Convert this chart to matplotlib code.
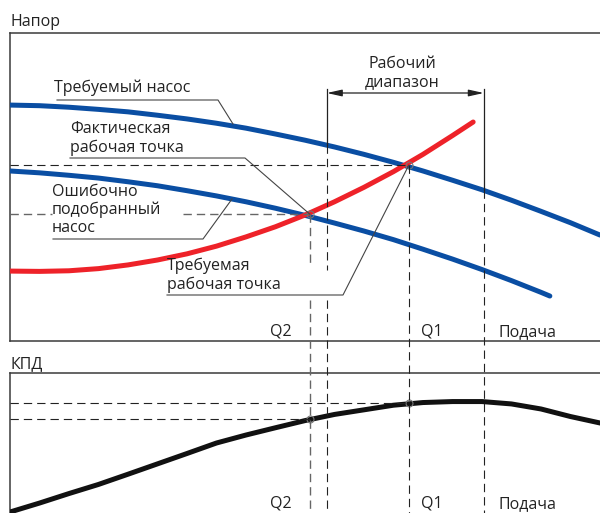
import numpy as np
import matplotlib
matplotlib.use("Agg")
import matplotlib.pyplot as plt
from matplotlib.transforms import Affine2D
from matplotlib.lines import Line2D
from matplotlib.patches import FancyArrowPatch

plt.rcParams['font.family'] = ['Open Sans', 'DejaVu Sans']
plt.rcParams['lines.scale_dashes'] = False

# flow in arbitrary units (0..100 across the chart), head / efficiency 0..100
q_req_pump = [0, 5, 10, 15, 20, 25, 30, 35, 40, 45, 50, 55, 60, 65, 70, 75, 80, 85, 90, 95, 100]
h_req_pump = [76.6, 76.4, 75.9, 75.2, 74.4, 73.3, 72.1, 70.7, 69.1, 67.2, 65.2,
              63.0, 60.6, 58.0, 55.2, 52.2, 49.1, 45.7, 42.1, 38.4, 34.4]

q_wrong_pump = [0, 5, 10, 15, 20, 25, 30, 35, 40, 45, 50, 55, 60, 65, 70, 75, 80, 85, 90, 91.5]
h_wrong_pump = [55.2, 54.6, 53.8, 52.9, 51.7, 50.4, 48.8, 47.1, 45.2, 43.1, 40.8,
                38.3, 35.7, 32.9, 29.8, 26.6, 23.2, 19.6, 15.8, 14.6]

q_system = [0, 5, 10, 15, 20, 25, 30, 35, 40, 45, 50, 55, 60, 65, 70, 75, 78.5]
h_system = [22.7, 22.6, 22.8, 23.5, 24.7, 26.3, 28.3, 30.8, 33.8, 37.1, 40.9,
            45.2, 49.9, 55.0, 60.6, 66.7, 71.1]

q_eff = [0, 5, 10, 15, 20, 25, 30, 35, 40, 45, 50, 55, 60, 65, 70, 75, 80, 85, 90, 95, 100]
eff = [0.7, 7.1, 13.9, 20.4, 27.7, 35.1, 42.5, 50.0, 55.7, 60.9, 66.0,
       70.4, 73.7, 77.0, 78.9, 79.6, 79.6, 77.9, 74.3, 68.9, 64.3]

# operating points: Q2 (actual), Q1 (required), working range
q2, h2, e2 = 50.8, 41.2, 67.1
q1, h1, e1 = 67.6, 57.1, 78.6
range_lo, range_hi = 53.7, 80.3
h_range_lo, h_range_hi = 63.6, 49.0

W, H = 600, 513
fig = plt.figure(figsize=(W / 100, H / 100), dpi=100)
pix = Affine2D().scale(1 / W, -1 / H).translate(0, 1) + fig.transFigure

ax1 = fig.add_axes([10 / W, 1 - 341 / H, 1 - 10 / W, 308 / H])
ax2 = fig.add_axes([10 / W, 0, 1 - 10 / W, 140 / H])
for ax in (ax1, ax2):
    ax.set_xlim(0, 100)
    ax.set_ylim(0, 100)
    ax.set_xticks([])
    ax.set_yticks([])
    ax.spines['right'].set_visible(False)
    for s in ax.spines.values():
        s.set_linewidth(1.1)
        s.set_color('#3a3a3a')
ax2.spines['bottom'].set_visible(False)

blue = '#0a4ea3'
red = '#ee2229'
ax1.plot(q_req_pump, h_req_pump, color=blue, lw=3.6, solid_capstyle='round', zorder=5)
ax1.plot(q_wrong_pump, h_wrong_pump, color=blue, lw=3.6, solid_capstyle='round', zorder=5)
ax1.plot(q_system, h_system, color=red, lw=3.6, solid_capstyle='round', zorder=6)
ax2.plot(q_eff, eff, color='#111111', lw=3.6, zorder=5)


def to_pix(ax, x, y):
    dx, dy = ax.transData.transform((x, y))
    return dx, H - dy


def pline(xs, ys, **kw):
    fig.add_artist(Line2D(xs, ys, transform=pix, **kw))


dash = dict(color='#222222', lw=0.8, dashes=(6, 3.6))
gdash = dict(color='#666666', lw=1.0, dashes=(6, 3.6))

# horizontal dashed guides
x1p, y1p = to_pix(ax1, q1, h1)
x2p, y2p = to_pix(ax1, q2, h2)
pline([10, x1p], [y1p, y1p], **dash)
pline([10, 52], [y2p, y2p], **gdash)
pline([183, x2p], [y2p, y2p], **gdash)
_, ye1 = to_pix(ax2, q1, e1)
_, ye2 = to_pix(ax2, q2, e2)
pline([10, x1p], [ye1, ye1], **dash)
pline([10, x2p], [ye2, ye2], **dash)

# vertical guides
pline([x1p, x1p], [y1p, H], **dash)
pline([x2p, x2p], [y2p, 266], **gdash)
pline([x2p, x2p], [300, H], **gdash)
xlo, ylo = to_pix(ax1, range_lo, h_range_lo)
xhi, yhi = to_pix(ax1, range_hi, h_range_hi)
pline([xlo, xlo], [89, ylo], color='#222222', lw=0.9)
pline([xlo, xlo], [ylo, 270], **dash)
pline([xlo, xlo], [300, H], **dash)
pline([xhi, xhi], [89, yhi], color='#222222', lw=0.9)
pline([xhi, xhi], [yhi, H], **dash)

# working range arrow
fig.add_artist(FancyArrowPatch(
    (xlo, 93), (xhi, 93), transform=pix, arrowstyle='<|-|>,head_length=0.45,head_width=0.1',
    mutation_scale=20, color='#222222', lw=0.9, shrinkA=0, shrinkB=0))

# operating point markers
for ax, x, y in [(ax1, q1, h1), (ax1, q2, h2), (ax2, q1, e1), (ax2, q2, e2)]:
    ax.plot(x, y, 'o', ms=5, mfc='none', mec='#777777', mew=0.8, zorder=7)

# leader lines
lead = dict(color='#444444', lw=0.8)
pline([57, 218, 233], [100, 100, 124], **lead)
pline([70, 245, x2p], [158, 158, y2p], **lead)
pline([53, 203, 232], [239, 239, 199], **lead)
pline([167, 343, x1p], [295, 295, y1p], **lead)

# multi-line labels, anchored at the baseline of their last line
txt = dict(transform=pix, fontsize=11.5, color='#222222', va='baseline', linespacing=1.18)
fig.text(10, 26.5, 'Напор', **txt)
fig.text(10, 368, 'КПД', **txt)
fig.text(54, 92.5, 'Требуемый насос', **txt)
fig.text(70, 151.5, 'Фактическая\nрабочая точка', **txt)
fig.text(52, 232.5, 'Ошибочно\nподобранный\nнасос', **txt)
fig.text(167, 289, 'Требуемая\nрабочая точка', **txt)
fig.text(402, 86, 'Рабочий\nдиапазон', ha='center', multialignment='center', **txt)
for yb in (336, 508):
    fig.text(270, yb, 'Q2', **txt)
    fig.text(421, yb, 'Q1', **txt)
    fig.text(499, yb, 'Подача', **txt)

fig.savefig('out.png', dpi=100)
